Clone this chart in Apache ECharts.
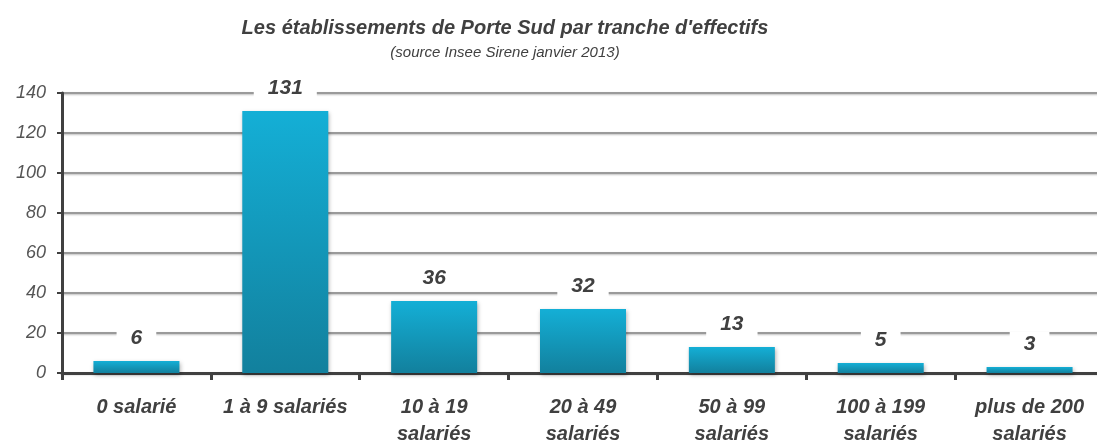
<!DOCTYPE html>
<html>
<head>
<meta charset="utf-8">
<script src="https://cdn.jsdelivr.net/npm/echarts@6/dist/echarts.min.js"></script>
<style>
  html, body { margin: 0; padding: 0; background: #fff; }
  #chart { width: 1097px; height: 443px; }
</style>
</head>
<body>
<div id="chart"></div>
<script>
const categories = [
  "0 salarié",
  "1 à 9 salariés",
  "10 à 19\nsalariés",
  "20 à 49\nsalariés",
  "50 à 99\nsalariés",
  "100 à 199\nsalariés",
  "plus de 200\nsalariés",
];
const values = [6, 131, 36, 32, 13, 5, 3];

const FONT = "'Liberation Sans', 'DejaVu Sans', sans-serif";
const chart = echarts.init(document.getElementById("chart"));

chart.setOption({
  animation: false,
  title: [
    {
      text: "Les établissements de Porte Sud par tranche d'effectifs",
      left: 500,
      top: 13,
      textAlign: "center",
      textStyle: {
        fontFamily: FONT,
        fontSize: 20,
        fontStyle: "italic",
        fontWeight: "bold",
        color: "#404040",
      },
    },
    {
      text: "(source Insee Sirene janvier 2013)",
      left: 500,
      top: 40,
      textAlign: "center",
      textStyle: {
        fontFamily: FONT,
        fontSize: 15,
        fontStyle: "italic",
        fontWeight: "normal",
        color: "#404040",
      },
    },
  ],
  grid: {
    left: 62,
    width: 1042,
    top: 93,
    height: 280,
    containLabel: false,
    outerBoundsMode: "none",
  },
  xAxis: {
    type: "category",
    data: categories,
    axisLine: { lineStyle: { color: "#404040", width: 3 } },
    axisTick: { show: true, length: 7, lineStyle: { color: "#404040", width: 3 } },
    axisLabel: {
      margin: 21,
      fontFamily: FONT,
      fontSize: 20,
      fontStyle: "italic",
      fontWeight: "bold",
      color: "#404040",
      lineHeight: 27,
      interval: 0,
    },
  },
  yAxis: {
    type: "value",
    min: 0,
    max: 140,
    interval: 20,
    axisLine: { show: true, lineStyle: { color: "#404040", width: 3 } },
    axisTick: { show: true, length: 5, lineStyle: { color: "#404040", width: 2 } },
    axisLabel: {
      margin: 16,
      fontFamily: FONT,
      fontSize: 18,
      fontStyle: "italic",
      color: "#555",
    },
    splitLine: {
      lineStyle: {
        color: "#9a9a9a",
        width: 2,
        shadowColor: "rgba(0,0,0,0.25)",
        shadowBlur: 2,
        shadowOffsetY: 1,
      },
    },
  },
  series: [
    {
      type: "bar",
      data: values,
      barWidth: 86,
      itemStyle: {
        color: new echarts.graphic.LinearGradient(0, 0, 0, 1, [
          { offset: 0, color: "#14afd6" },
          { offset: 1, color: "#12809d" },
        ]),
        shadowColor: "rgba(0,0,0,0.3)",
        shadowBlur: 4,
        shadowOffsetX: 1,
        shadowOffsetY: 2,
      },
      label: {
        show: true,
        position: "top",
        distance: 10,
        fontFamily: FONT,
        fontSize: 21,
        fontStyle: "italic",
        fontWeight: "bold",
        color: "#404040",
        backgroundColor: "#fff",
        padding: [2, 14],
      },
    },
  ],
});
</script>
</body>
</html>
